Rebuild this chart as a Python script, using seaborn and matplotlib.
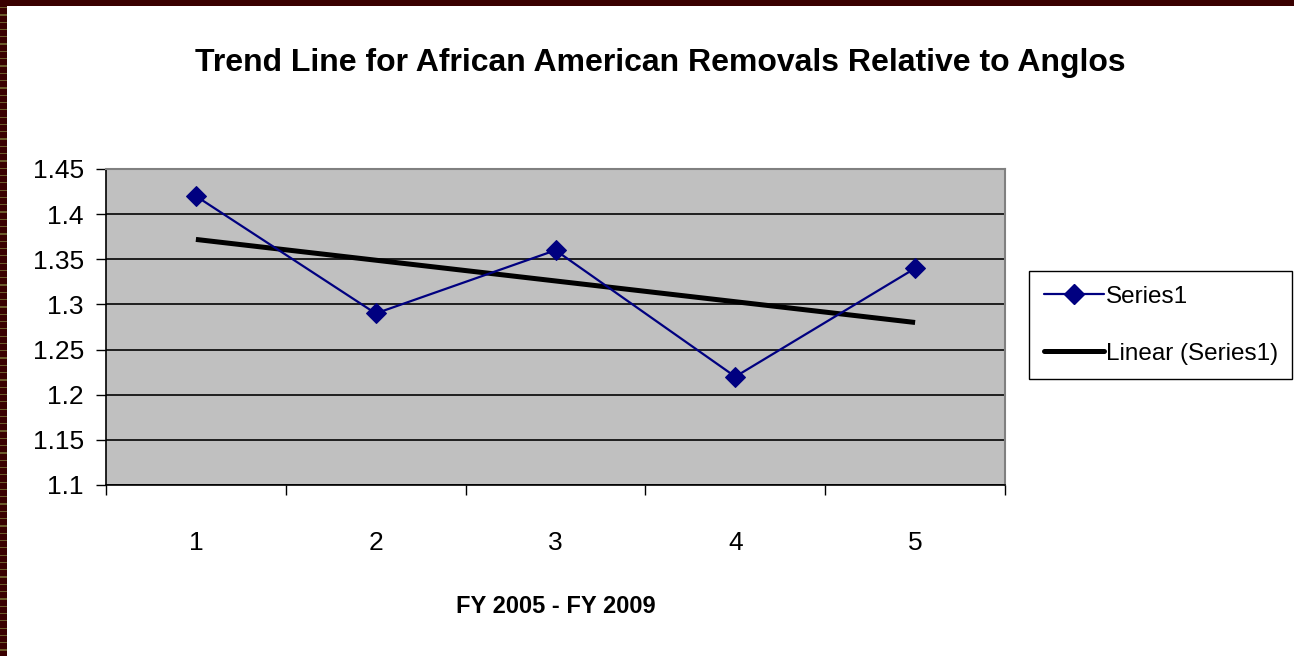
import numpy as np
import pandas as pd
import matplotlib
matplotlib.use("Agg")
import matplotlib.pyplot as plt
from matplotlib.patches import Rectangle
from matplotlib.lines import Line2D
import seaborn as sns

# Ratio of African American removals to Anglo removals, FY 2005 - FY 2009
periods = [1, 2, 3, 4, 5]
ratios = [1.42, 1.29, 1.36, 1.22, 1.34]
y_ticks = [1.1, 1.15, 1.2, 1.25, 1.3, 1.35, 1.4, 1.45]

sns.set_theme(style="white")
plt.rcParams["font.family"] = ["Liberation Sans", "DejaVu Sans"]
plt.rcParams["text.color"] = "black"
plt.rcParams["axes.labelcolor"] = "black"
plt.rcParams["xtick.color"] = "black"
plt.rcParams["ytick.color"] = "black"

df = pd.DataFrame({"period": periods, "ratio": ratios})

fig = plt.figure(figsize=(12.94, 6.56), dpi=100)
fig.patch.set_facecolor("white")
ax = fig.add_axes([106 / 1294, 171 / 656, 899 / 1294, 316 / 656])
ax.set_facecolor("#c0c0c0")

navy = "#000080"
# Least-squares trend line over the five years
sns.regplot(data=df, x="period", y="ratio", ax=ax, scatter=False, ci=None,
            truncate=True, line_kws=dict(color="black", lw=3.6, zorder=3,
                                         solid_capstyle="butt"))
sns.lineplot(data=df, x="period", y="ratio", ax=ax, color=navy, lw=1.6,
             marker="D", markersize=10.5, markeredgecolor=navy, zorder=4)

ax.set_xlim(0.5, 5.5)
ax.set_ylim(1.1, 1.45)
ax.set_yticks(y_ticks)
ax.set_yticklabels([f"{v:g}" for v in y_ticks], fontsize=19)
ax.yaxis.grid(True, color="#111111", lw=1.3)
ax.set_axisbelow(True)

# Category labels centred in each band, tick marks on the band edges
ax.set_xticks(np.arange(0.5, 6.0, 1.0))
ax.set_xticklabels([])
ax.set_xticks(periods, minor=True)
ax.set_xticklabels([str(p) for p in periods], minor=True, fontsize=19)
ax.tick_params(axis="x", which="major", direction="out", length=7, width=1,
               color="black", bottom=True)
ax.tick_params(axis="x", which="minor", length=0, pad=33)
ax.tick_params(axis="y", direction="out", length=7, width=1, color="black",
               left=True, pad=9)

for side in ("top", "right"):
    ax.spines[side].set_color("#808080")
    ax.spines[side].set_linewidth(1.5)
for side in ("left", "bottom"):
    ax.spines[side].set_color("black")
    ax.spines[side].set_linewidth(1.2)

ax.set_ylabel("")
ax.set_xlabel("FY 2005 - FY 2009", fontsize=17, fontweight="bold", labelpad=29)
fig.text(660 / 1294, 1 - 63 / 656, "Trend Line for African American Removals Relative to Anglos",
         ha="center", va="center", fontsize=23, fontweight="bold")

handles = [
    Line2D([], [], color=navy, lw=1.6, marker="D", markersize=10.5),
    Line2D([], [], color="black", lw=3.6),
]
leg = fig.legend(handles, ["Series1", "Linear (Series1)"], loc="upper left",
                 bbox_to_anchor=(1029 / 1294, 1 - 271 / 656), fontsize=17.5,
                 frameon=True, fancybox=False, framealpha=1, edgecolor="black",
                 handlelength=2.5, handletextpad=0.05, labelspacing=1.45,
                 borderpad=0.6, borderaxespad=0)
leg.get_frame().set_linewidth(1.0)

# Dark frame along the top and left edges of the slide
fig.patches.append(Rectangle((0, 1 - 6 / 656), 1, 6 / 656, transform=fig.transFigure,
                             facecolor="#3a0000", edgecolor="none", zorder=10))
fig.patches.append(Rectangle((0, 0), 7 / 1294, 1, transform=fig.transFigure,
                             facecolor="#3a0000", edgecolor="none", zorder=10))
for yp in np.arange(7, 656, 7.3):
    fig.patches.append(Rectangle((0, 1 - (yp + 1.2) / 656), 7 / 1294, 1.2 / 656,
                                 transform=fig.transFigure, facecolor="#6b5a2a",
                                 edgecolor="none", zorder=11))

fig.savefig("out.png", dpi=100)
